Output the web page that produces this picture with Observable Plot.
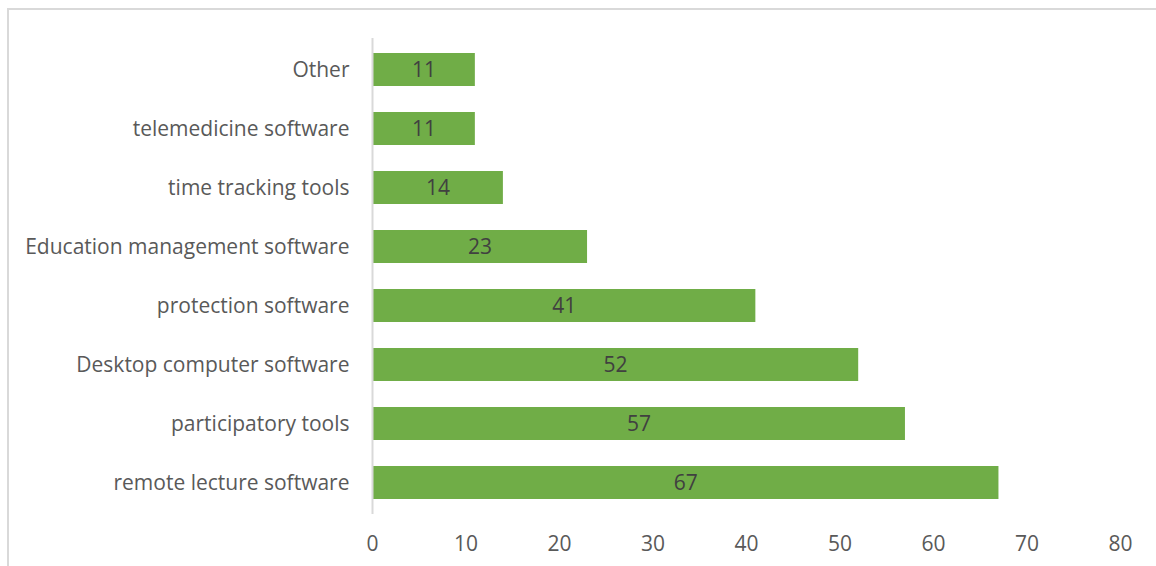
<!DOCTYPE html>
<html>
<head>
<meta charset="utf-8">
<script src="https://cdn.jsdelivr.net/npm/d3@7"></script>
<script src="https://cdn.jsdelivr.net/npm/@observablehq/plot@0.6"></script>
<style>
  html, body { margin: 0; padding: 0; background: #fff; }
  #wrap { position: relative; width: 1156px; height: 566px; overflow: hidden; }
  #border { position: absolute; left: 7px; top: 8px; right: -10px; bottom: -10px; border-left: 2px solid #d9d9d9; border-top: 2px solid #d9d9d9; pointer-events: none; }
  #chart { position: absolute; left: 0; top: 0; }
</style>
</head>
<body>
<div id="wrap"><div id="chart"></div><div id="border"></div></div>
<script>
const categories = [
  "Other",
  "telemedicine software",
  "time tracking tools",
  "Education management software",
  "protection software",
  "Desktop computer software",
  "participatory tools",
  "remote lecture software"
];
const values = [11, 11, 14, 23, 41, 52, 57, 67];
const xTicks = [0, 10, 20, 30, 40, 50, 60, 70, 80];

const data = categories.map((c, i) => ({category: c, value: values[i]}));
const font = "'Open Sans', Lato, sans-serif";

const chart = Plot.plot({
  width: 1156,
  height: 566,
  marginLeft: 372,
  marginRight: 36,
  marginTop: 38,
  marginBottom: 52,
  style: {fontFamily: font, fontSize: "21px", color: "#595959", background: "transparent"},
  x: {domain: [0, 80], ticks: xTicks, label: null},
  y: {domain: categories, label: null, paddingInner: 0.44, paddingOuter: 0.22},
  marks: [
    Plot.barX(data, {x: "value", y: "category", fill: "#70ad47"}),
    Plot.ruleX([0], {stroke: "#d9d9d9", strokeWidth: 2}),
    Plot.text(data, {x: d => d.value / 2, y: "category", text: d => String(d.value), fill: "#404040", fontSize: 21}),
    Plot.axisX({ticks: xTicks, tickSize: 0, tickPadding: 22, fontSize: 21, label: null, tickFormat: d => String(d)}),
    Plot.axisY({tickSize: 0, tickPadding: 23, fontSize: 21, label: null})
  ]
});
document.getElementById("chart").appendChild(chart);
</script>
</body>
</html>
